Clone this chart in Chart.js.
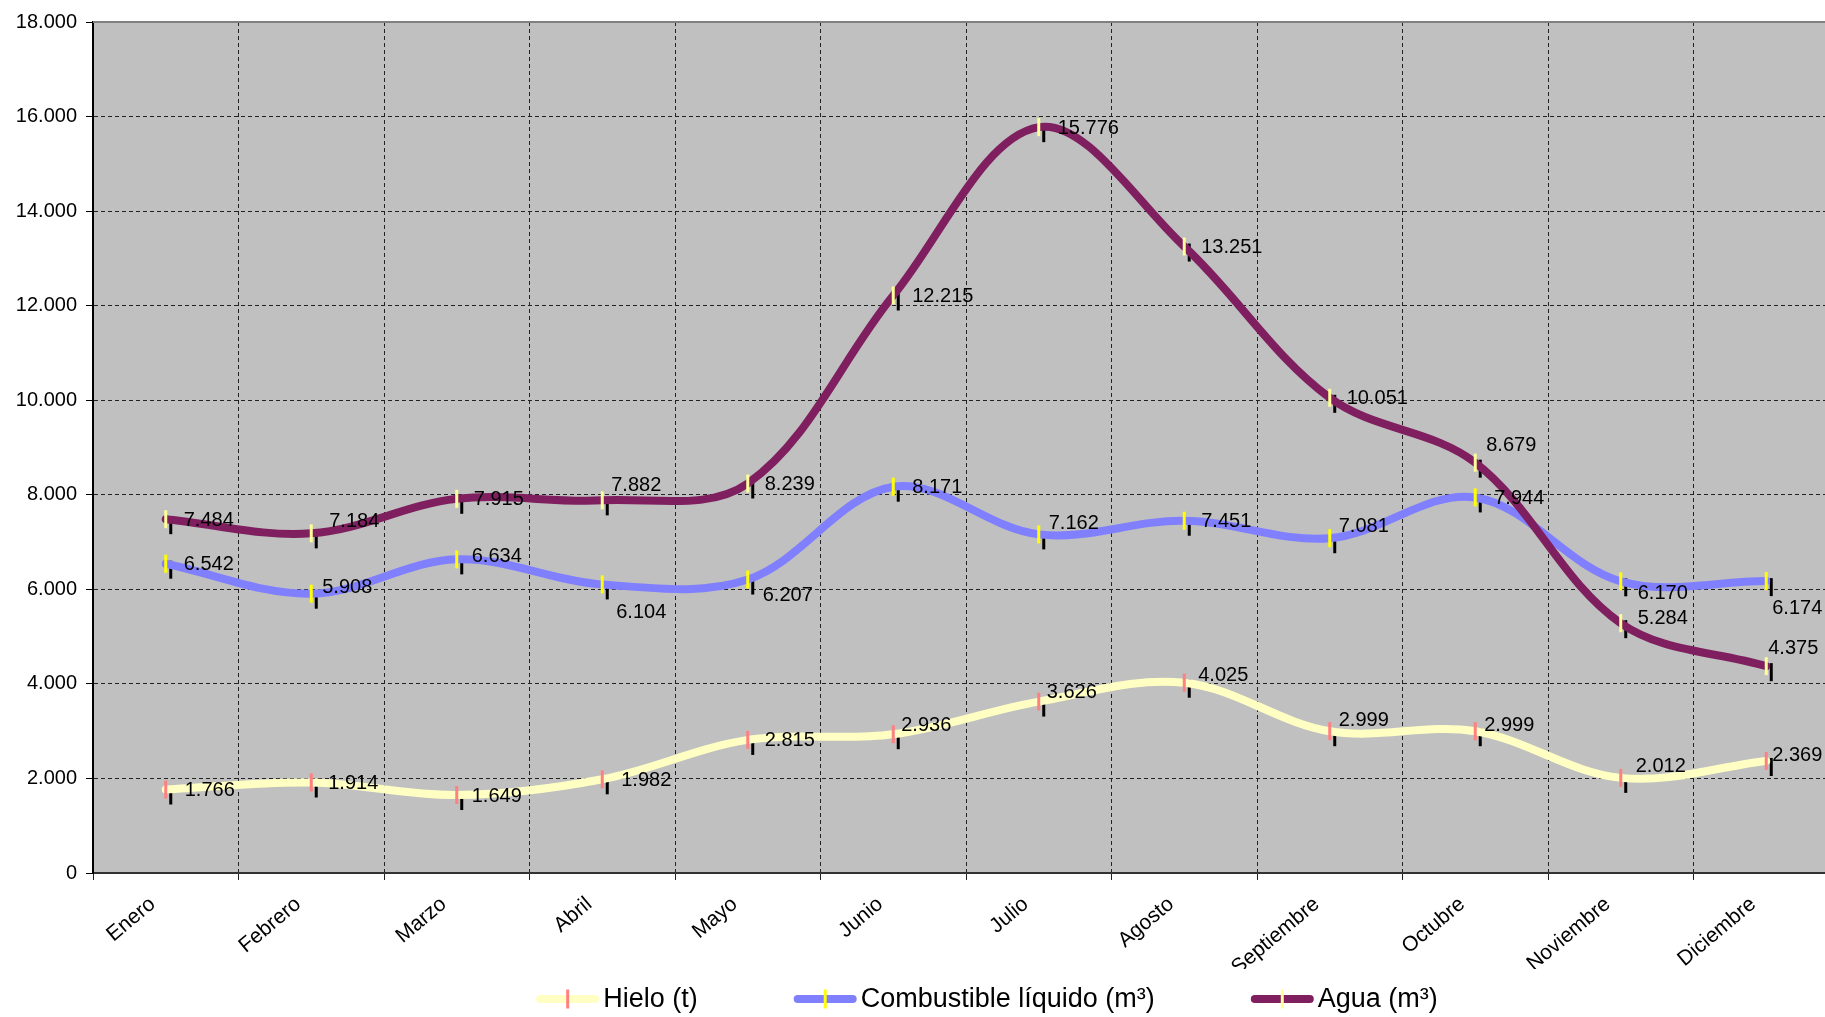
<!DOCTYPE html>
<html>
<head>
<meta charset="utf-8">
<script src="https://cdn.jsdelivr.net/npm/chart.js@4.4.1/dist/chart.umd.min.js"></script>
<style>
    html, body { margin: 0; padding: 0; background: #fff; overflow: hidden; }
    #wrap { position: relative; width: 1974px; height: 1017px; }
</style>
</head>
<body>
<div id="wrap"><canvas id="chart" width="1974" height="1017"></canvas></div>
<script>
const months = ['Enero', 'Febrero', 'Marzo', 'Abril', 'Mayo', 'Junio', 'Julio', 'Agosto', 'Septiembre', 'Octubre', 'Noviembre', 'Diciembre'];
const hielo = [1766, 1914, 1649, 1982, 2815, 2936, 3626, 4025, 2999, 2999, 2012, 2369];
const combustible = [6542, 5908, 6634, 6104, 6207, 8171, 7162, 7451, 7081, 7944, 6170, 6174];
const agua = [7484, 7184, 7915, 7882, 8239, 12215, 15776, 13251, 10051, 8679, 5284, 4375];
const yMax = 18000;
const yStep = 2000;

const FONT = '"Liberation Sans", Arial, sans-serif';

// 1766 -> "1.766"
const fmt = v => String(Math.round(v)).replace(/\B(?=(\d{3})+(?!\d))/g, '.');

// label nudges [dx, dy] per point, to keep labels clear of the lines
const labelNudge = [
    [[19, 0], [17, 0], [15, 0], [19, 0], [17, 0], [8, -10], [8, -10], [14, -8], [9, -12], [9, -7], [15, -12], [6, -7]],
    [[18, 0], [11, -7], [15, -4], [14, 27], [15, 15], [19, 0], [10, -12], [17, 0], [9, -13], [19, 0], [17, 11], [6, 26]],
    [[18, 0], [18, -13], [17, 0], [9, -16], [17, 0], [19, 0], [19, 0], [17, 0], [17, 0], [11, -18], [17, -6], [2, -19]]
];

// grey plot area
const plotBg = {
    id: 'plotBg',
    beforeDraw(chart) {
        const { ctx, chartArea: a } = chart;
        ctx.save();
        ctx.fillStyle = '#C0C0C0';
        ctx.fillRect(a.left, a.top, a.right - a.left, a.bottom - a.top);
        ctx.restore();
    },
    beforeDatasetsDraw(chart) {
        const { ctx, chartArea: a } = chart;
        ctx.save();
        ctx.strokeStyle = '#808080';
        ctx.lineWidth = 2;
        ctx.beginPath();
        ctx.moveTo(a.left, a.top);
        ctx.lineTo(a.right, a.top);
        ctx.lineTo(a.right, a.bottom);
        ctx.stroke();
        ctx.restore();
    }
};

// black marker shadows under the lines
const markShadow = {
    id: 'markShadow',
    beforeDatasetsDraw(chart) {
        const ctx = chart.ctx;
        ctx.save();
        ctx.strokeStyle = '#000';
        ctx.lineWidth = 3;
        chart.data.datasets.forEach((ds, i) => {
            chart.getDatasetMeta(i).data.forEach(pt => {
                ctx.beginPath();
                ctx.moveTo(pt.x + 5, pt.y - 3);
                ctx.lineTo(pt.x + 5, pt.y + 15);
                ctx.stroke();
            });
        });
        ctx.restore();
    }
};

const valueLabels = {
    id: 'valueLabels',
    afterDatasetsDraw(chart) {
        const ctx = chart.ctx;
        ctx.save();
        ctx.font = `20px ${FONT}`;
        ctx.fillStyle = '#000';
        ctx.textAlign = 'left';
        ctx.textBaseline = 'middle';
        chart.data.datasets.forEach((ds, i) => {
            chart.getDatasetMeta(i).data.forEach((pt, j) => {
                const [dx, dy] = labelNudge[i][j];
                ctx.fillText(fmt(ds.data[j]), pt.x + dx, pt.y + dy + 1);
            });
        });
        ctx.restore();
    }
};

// legend: thick line sample with the marker dash across it
const lineLegend = {
    id: 'lineLegend',
    afterDraw(chart) {
        const ctx = chart.ctx;
        const sampleW = 63, textGap = 4, itemGap = 96;
        const y = chart.height - 18;
        ctx.save();
        ctx.font = `27px ${FONT}`;
        const items = chart.data.datasets.map(ds => ({
            text: ds.label, line: ds.borderColor, mark: ds.pointBorderColor,
            w: sampleW + textGap + ctx.measureText(ds.label).width
        }));
        const total = items.reduce((s, it) => s + it.w, 0) + itemGap * (items.length - 1);
        let x = chart.width / 2 - total / 2;
        items.forEach(it => {
            ctx.lineCap = 'round';
            ctx.lineWidth = 8;
            ctx.strokeStyle = it.line;
            ctx.beginPath();
            ctx.moveTo(x + 4, y);
            ctx.lineTo(x + sampleW - 4, y);
            ctx.stroke();
            ctx.lineCap = 'butt';
            ctx.lineWidth = 3;
            ctx.strokeStyle = it.mark;
            ctx.beginPath();
            ctx.moveTo(x + sampleW / 2, y - 9.5);
            ctx.lineTo(x + sampleW / 2, y + 9.5);
            ctx.stroke();
            ctx.fillStyle = '#000';
            ctx.textAlign = 'left';
            ctx.textBaseline = 'middle';
            ctx.fillText(it.text, x + sampleW + textGap, y + 1);
            x += it.w + itemGap;
        });
        ctx.restore();
    }
};

new Chart(document.getElementById('chart'), {
    type: 'line',
    data: {
        labels: months,
        datasets: [
            { label: 'Hielo (t)', data: hielo, borderColor: '#FFFFC4', pointBorderColor: '#FF8080', order: 2 },
            { label: 'Combustible líquido (m³)', data: combustible, borderColor: '#8080FF', pointBorderColor: '#FFFF00', order: 1 },
            { label: 'Agua (m³)', data: agua, borderColor: '#7F1F5F', pointBorderColor: '#FFFF99', order: 0 }
        ]
    },
    options: {
        responsive: false,
        animation: false,
        events: [],
        layout: { padding: { left: 0, top: 22, right: 135, bottom: 48 } },
        elements: {
            line: { borderWidth: 8, tension: 0.35, borderCapStyle: 'round', borderJoinStyle: 'round', fill: false },
            point: { pointStyle: 'line', rotation: 90, radius: 9, hoverRadius: 9, borderWidth: 3 }
        },
        scales: {
            x: {
                offset: true,
                grid: { offset: true, color: '#222', lineWidth: 1, tickLength: 7, tickColor: '#222', tickBorderDash: [] },
                border: { color: '#333', width: 2, dash: [4, 3] },
                ticks: {
                    autoSkip: false, minRotation: 40, maxRotation: 40, padding: 12, labelOffset: -13,
                    color: '#000', font: { family: FONT, size: 21 }
                },
                afterFit: s => { s.height = 96; }
            },
            y: {
                min: 0, max: yMax,
                grid: { color: '#222', lineWidth: 1, tickLength: 7, tickColor: '#000', tickBorderDash: [] },
                border: { color: '#000', width: 2, dash: [4, 3] },
                ticks: {
                    stepSize: yStep, padding: 9, color: '#000',
                    font: { family: FONT, size: 20 },
                    callback: v => fmt(v)
                },
                afterFit: s => { s.width = 93; }
            }
        },
        plugins: {
            legend: { display: false },
            tooltip: { enabled: false }
        }
    },
    plugins: [plotBg, markShadow, valueLabels, lineLegend]
});
</script>
</body>
</html>
